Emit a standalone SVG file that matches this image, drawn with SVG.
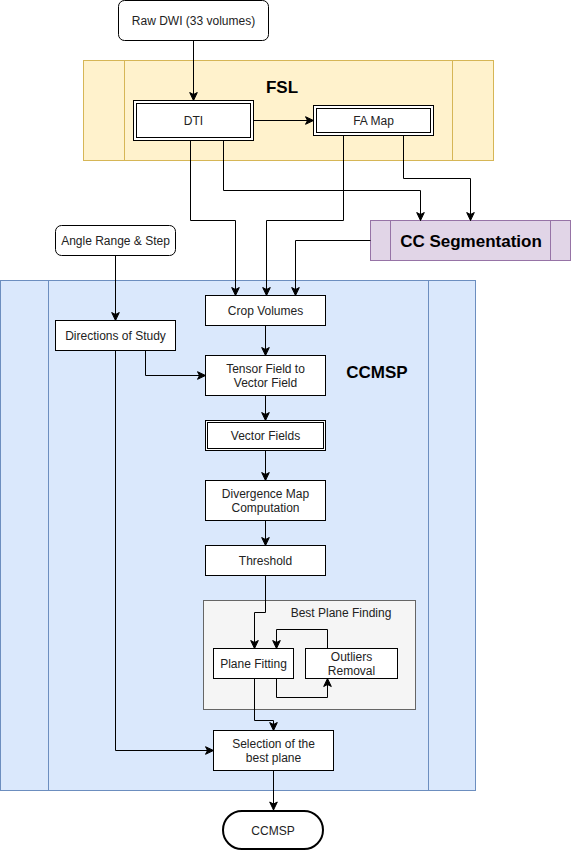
<svg xmlns="http://www.w3.org/2000/svg" width="571" height="852" viewBox="0 0 571 852">
<defs>
<marker id="arr" markerUnits="userSpaceOnUse" markerWidth="10" markerHeight="10" viewBox="0 0 10 10" refX="9" refY="5" orient="auto">
<path d="M1,1.2 L9,5 L1,8.8 L3,5 Z" fill="#000" stroke="#000" stroke-width="1"/>
</marker>
</defs>
<style>
text{font-family:"Liberation Sans",Arial,sans-serif;font-size:12px;fill:#222;text-anchor:middle;dominant-baseline:central}
.box{fill:#fff;stroke:#000;stroke-width:1}
.title{font-weight:bold;fill:#000}
.edge{fill:none;stroke:#000;stroke-width:1}
.edge path{marker-end:url(#arr)}
</style>
<rect width="571" height="852" fill="#fff"/>

<g id="fsl">
<rect x="83.5" y="60.5" width="410" height="100" fill="#fff2cc" stroke="#d6b656"/>
<line x1="124.5" y1="60.5" x2="124.5" y2="160.5" stroke="#d6b656"/>
<line x1="452.5" y1="60.5" x2="452.5" y2="160.5" stroke="#d6b656"/>
<text x="282" y="87" class="title" style="font-size:17px">FSL</text>
</g>

<g id="ccmsp-pool">
<rect x="0.5" y="280.5" width="475" height="510" fill="#dae8fc" stroke="#6c8ebf"/>
<line x1="48.5" y1="280.5" x2="48.5" y2="790.5" stroke="#6c8ebf"/>
<line x1="428.5" y1="280.5" x2="428.5" y2="790.5" stroke="#6c8ebf"/>
<text x="377" y="372" class="title" style="font-size:17px">CCMSP</text>
</g>

<g id="cc-seg">
<rect x="370.5" y="220.5" width="200" height="40" fill="#e1d5e7" stroke="#9673a6"/>
<line x1="390.5" y1="220.5" x2="390.5" y2="260.5" stroke="#9673a6"/>
<line x1="550.5" y1="220.5" x2="550.5" y2="260.5" stroke="#9673a6"/>
<text x="471" y="241" class="title" style="font-size:17px">CC Segmentation</text>
</g>

<g id="best-plane-finding">
<rect x="203.5" y="600.5" width="212" height="109" fill="#f5f5f5" stroke="#666"/>
<text x="341" y="613">Best Plane Finding</text>
</g>

<g id="raw-dwi">
<rect x="118.5" y="0.5" width="150" height="40" rx="6" class="box"/>
<text x="193.5" y="21">Raw DWI (33 volumes)</text>
</g>

<g id="dti">
<rect x="133.5" y="100.5" width="120" height="40" class="box"/>
<rect x="136.5" y="103.5" width="114" height="34" class="box"/>
<text x="193.5" y="121">DTI</text>
</g>

<g id="fa-map">
<rect x="313.5" y="105.5" width="120" height="30" class="box"/>
<rect x="316.5" y="108.5" width="114" height="24" class="box"/>
<text x="373.5" y="121">FA Map</text>
</g>

<g id="angle-range">
<rect x="55.5" y="225.5" width="120" height="30" rx="6" class="box"/>
<text x="115.5" y="241">Angle Range &amp; Step</text>
</g>

<g id="directions">
<rect x="55.5" y="320.5" width="120" height="30" class="box"/>
<text x="115.5" y="336">Directions of Study</text>
</g>

<g id="crop-volumes">
<rect x="205.5" y="295.5" width="120" height="30" class="box"/>
<text x="265.5" y="311">Crop Volumes</text>
</g>

<g id="tensor-field">
<rect x="205.5" y="355.5" width="120" height="40" class="box"/>
<text x="265.5" y="369">Tensor Field to</text>
<text x="265.5" y="383">Vector Field</text>
</g>

<g id="vector-fields">
<rect x="205.5" y="420.5" width="120" height="30" class="box"/>
<rect x="207.5" y="422.5" width="116" height="26" class="box"/>
<text x="265.5" y="436">Vector Fields</text>
</g>

<g id="divergence">
<rect x="205.5" y="480.5" width="120" height="40" class="box"/>
<text x="265.5" y="494">Divergence Map</text>
<text x="265.5" y="508">Computation</text>
</g>

<g id="threshold">
<rect x="205.5" y="545.5" width="120" height="30" class="box"/>
<text x="265.5" y="561">Threshold</text>
</g>

<g id="plane-fitting">
<rect x="213.5" y="648.5" width="80" height="30" class="box"/>
<text x="253.5" y="664">Plane Fitting</text>
</g>

<g id="outliers">
<rect x="305.5" y="648.5" width="92" height="30" class="box"/>
<text x="351.5" y="657">Outliers</text>
<text x="351.5" y="671">Removal</text>
</g>

<g id="selection">
<rect x="213.5" y="730.5" width="120" height="40" class="box"/>
<text x="273.5" y="744">Selection of the</text>
<text x="273.5" y="758">best plane</text>
</g>

<g id="ccmsp-end">
<rect x="223" y="811" width="100" height="38" rx="19" fill="#fff" stroke="#000" stroke-width="2"/>
<text x="273" y="831">CCMSP</text>
</g>

<g id="connectors" class="edge">
<path d="M193.5,40.5 V100.5"/>
<path d="M253.5,120.5 H313.5"/>
<path d="M190.5,140.5 V220.5 H235.5 V295.5"/>
<path d="M223.5,140.5 V190.5 H420.5 V220.5"/>
<path d="M343.5,135.5 V220.5 H266.5 V295.5"/>
<path d="M403.5,135.5 V178.5 H470.5 V220.5"/>
<path d="M370.5,240.5 H295.5 V295.5"/>
<path d="M115.5,255.5 V320.5"/>
<path d="M145.5,350.5 V375.5 H205.5"/>
<path d="M265.5,325.5 V355.5"/>
<path d="M265.5,395.5 V420.5"/>
<path d="M265.5,450.5 V480.5"/>
<path d="M265.5,520.5 V545.5"/>
<path d="M265.5,575.5 V612.5 H254.5 V648.5"/>
<path d="M327.5,648.5 V629.5 H276.5 V648.5"/>
<path d="M276.5,678.5 V697.5 H327.5 V678.5"/>
<path d="M254.5,678.5 V720.5 H273.5 V730.5"/>
<path d="M115.5,350.5 V750.5 H213.5"/>
<path d="M273.5,770.5 V810"/>
</g>
</svg>
